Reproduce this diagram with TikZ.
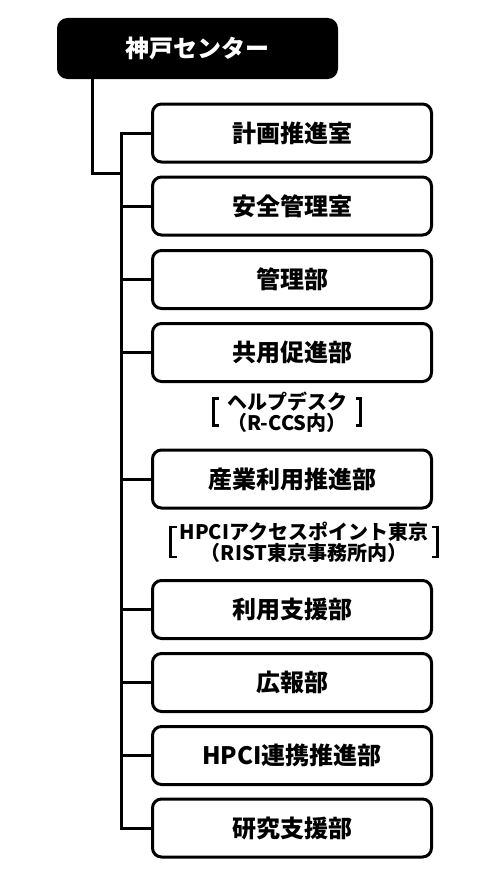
\documentclass[tikz,border=0pt]{standalone}
\usepackage{fontspec}
\setmainfont{Noto Sans CJK JP}[BoldFont={* Black}]
\usetikzlibrary{positioning}

\begin{document}
\begin{tikzpicture}[x=1pt, y=-1pt,
	head/.style={draw, fill=black, text=white, line width=3pt, rounded corners=9pt,
		minimum width=278pt, minimum height=58pt, inner sep=0pt, font=\bfseries\fontsize{24}{28}\selectfont},
	dept/.style={draw, fill=white, line width=3pt, rounded corners=9pt,
		minimum width=279pt, minimum height=58pt, inner sep=0pt, font=\bfseries\fontsize{24}{28}\selectfont},
	memo/.style={align=center, inner sep=0pt, font=\bfseries\fontsize{20}{21}\selectfont},
	wire/.style={line width=3pt},
	brkt/.style={line width=2.5pt}]
	\useasboundingbox (0,0) rectangle (489,883);

	\node[head] (kobe)	at (197.5,48.5)	{神戸センター};

	\node[dept] (keikaku)	at (292,133)	{計画推進室};
	\node[dept] (anzen)	at (292,206)	{安全管理室};
	\node[dept] (kanri)	at (292,279.5)	{管理部};
	\node[dept] (kyoyo)	at (292,352.5)	{共用促進部};
	\node[dept] (sangyo)	at (292,479)	{産業利用推進部};
	\node[dept] (riyo)	at (292,609.5)	{利用支援部};
	\node[dept] (koho)	at (292,682.5)	{広報部};
	\node[dept] (hpci)	at (292,755.5)	{HPCI連携推進部};
	\node[dept] (kenkyu)	at (292,828)	{研究支援部};

	\node[memo] (help)	at (287,412)	{ヘルプデスク\\（R-CCS内）};
	\node[memo] (access)	at (304,542)	{HPCIアクセスポイント東京\\（RIST東京事務所内）};

	\coordinate (trunk)	at (92,0);
	\coordinate (bus)	at (121.5,173);

	\draw[wire] (kobe.south -| trunk) |- (bus);
	\draw[wire] (keikaku.west) -- (keikaku.west -| bus) -- (kenkyu.west -| bus) -- (kenkyu.west);
	\draw[wire] (anzen.west -| bus) -- (anzen.west);
	\draw[wire] (kanri.west -| bus) -- (kanri.west);
	\draw[wire] (kyoyo.west -| bus) -- (kyoyo.west);
	\draw[wire] (sangyo.west -| bus) -- (sangyo.west);
	\draw[wire] (riyo.west -| bus) -- (riyo.west);
	\draw[wire] (koho.west -| bus) -- (koho.west);
	\draw[wire] (hpci.west -| bus) -- (hpci.west);

	% brackets round the notes
	\draw[brkt] (help.center) ++(-68.5,-13.5) -- ++(-5,0) -- ++(0,27) -- ++(5,0);
	\draw[brkt] (help.center) ++(68.5,-13.5) -- ++(5,0) -- ++(0,27) -- ++(-5,0);
	\draw[brkt] (access.center) ++(-127.5,-15) -- ++(-6,0) -- ++(0,30) -- ++(6,0);
	\draw[brkt] (access.center) ++(127.5,-15) -- ++(6,0) -- ++(0,30) -- ++(-6,0);
\end{tikzpicture}
\end{document}
